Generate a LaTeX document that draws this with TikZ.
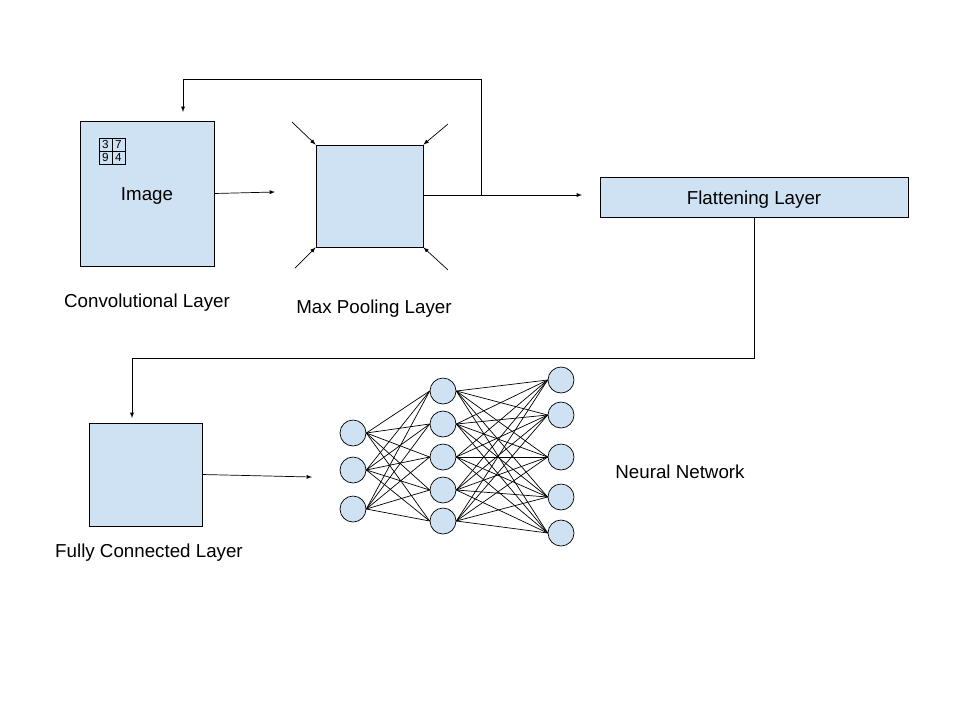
\documentclass[tikz,border=0pt]{standalone}
\usepackage{fontspec}
\setmainfont{Liberation Sans}
\usetikzlibrary{calc}
\definecolor{cellblue}{HTML}{CFE2F3}

\begin{document}
\begin{tikzpicture}[x=0.03cm, y=-0.03cm, semithick, >=latex,
  box/.style={draw, fill=cellblue, inner sep=0pt, font=\fontsize{16}{19}\selectfont},
  unit/.style={draw, circle, fill=cellblue, minimum size=0.78cm, inner sep=0pt},
  cell/.style={draw, minimum size=0.39cm, inner sep=0pt, font=\fontsize{10}{10}\selectfont},
  caption/.style={font=\fontsize{16}{19}\selectfont}]
  \useasboundingbox (0,0) rectangle (960,720);

  % convolutional layer
  \node [box, minimum width=4.02cm, minimum height=4.35cm] (img) at (147,193.5) {};
  \node [caption] (imgtxt) at (147,196) {Image};
  \node [cell] (g1) at (105.5,144.5) {3};
  \node [cell] (g2) at (118.5,144.5) {7};
  \node [cell] (g3) at (105.5,157.5) {9};
  \node [cell] (g4) at (118.5,157.5) {4};
  \node [caption] (convtxt) at (147,302.5) {Convolutional Layer};

  % max pooling layer
  \node [box, minimum width=3.21cm, minimum height=3.06cm] (pool) at (369.5,196) {};
  \node [caption] (pooltxt) at (374,308.5) {Max Pooling Layer};
  \coordinate (nw) at (292,122);
  \coordinate (ne) at (448,124);
  \coordinate (sw) at (295,268);
  \coordinate (se) at (448,270);
  \draw [->] (nw) -- (pool.north west);
  \draw [->] (ne) -- (pool.north east);
  \draw [->] (sw) -- (pool.south west);
  \draw [->] (se) -- (pool.south east);
  \coordinate (imgend) at (275,192);
  \draw [->] (img.east) -- (imgend);

  % flattening layer
  \node [box, minimum width=9.24cm, minimum height=1.2cm] (flat) at (754,197) {};
  \node [caption] (flattxt) at (754,199.5) {Flattening Layer};
  \coordinate (flatend) at (582,195);
  \coordinate (branch) at (481,195);
  \coordinate (loop) at (481,79);
  \coordinate (imgtop) at (183,112);
  \draw [->] (pool.east |- flatend) -- (flatend);
  \draw [->] (branch) -- (loop) -| (imgtop);

  % fully connected layer
  \node [box, minimum width=3.39cm, minimum height=3.09cm] (fc) at (145.5,474.5) {};
  \node [caption] (fctxt) at (149,552.5) {Fully Connected Layer};
  \coordinate (fcturn) at (132,358);
  \coordinate (fctop) at (132,418);
  \draw [->] (flat.south) |- (fcturn) -- (fctop);
  \coordinate (fcend) at (312,477);
  \draw [->] (fc.east) -- (fcend);

  % neural network
  \node [unit] (i1) at (353,433) {};
  \node [unit] (i2) at (353,470) {};
  \node [unit] (i3) at (353,509) {};
  \node [unit] (h1) at (443,391) {};
  \node [unit] (h2) at (443,424) {};
  \node [unit] (h3) at (443,457) {};
  \node [unit] (h4) at (443,490) {};
  \node [unit] (h5) at (443,521) {};
  \node [unit] (o1) at (561,380) {};
  \node [unit] (o2) at (561,415) {};
  \node [unit] (o3) at (561,457) {};
  \node [unit] (o4) at (561,497) {};
  \node [unit] (o5) at (561,533) {};
  \path (i1.east) edge (h1.west) edge (h2.west) edge (h3.west) edge (h4.west) edge (h5.west);
  \path (i2.east) edge (h1.west) edge (h2.west) edge (h3.west) edge (h4.west) edge (h5.west);
  \path (i3.east) edge (h1.west) edge (h2.west) edge (h3.west) edge (h4.west) edge (h5.west);
  \path (h1.east) edge (o1.west) edge (o2.west) edge (o3.west) edge (o4.west) edge (o5.west);
  \path (h2.east) edge (o1.west) edge (o2.west) edge (o3.west) edge (o4.west) edge (o5.west);
  \path (h3.east) edge (o1.west) edge (o2.west) edge (o3.west) edge (o4.west) edge (o5.west);
  \path (h4.east) edge (o1.west) edge (o2.west) edge (o3.west) edge (o4.west) edge (o5.west);
  \path (h5.east) edge (o1.west) edge (o2.west) edge (o3.west) edge (o4.west) edge (o5.west);
  \node [caption] (nntxt) at (680,471.5) {Neural Network};
\end{tikzpicture}
\end{document}
